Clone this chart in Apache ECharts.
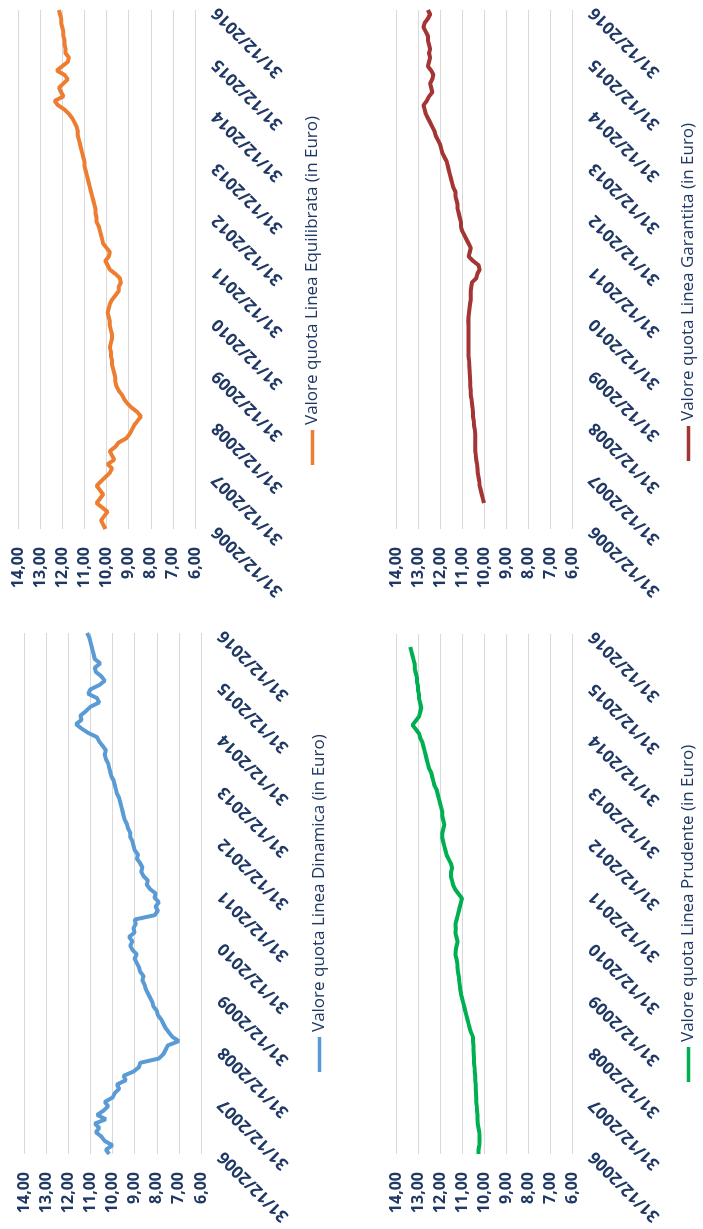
<!DOCTYPE html>
<html><head><meta charset="utf-8">
<script src="https://cdn.jsdelivr.net/npm/echarts@6/dist/echarts.min.js"></script>
<style>
html,body{margin:0;padding:0;width:703px;height:1229px;overflow:hidden;background:#fff}
#chart{position:absolute;left:0;top:0;width:1229px;height:703px;transform-origin:0 0;transform:translate(0,1229px) rotate(-90deg);}
</style></head><body><div id="chart"></div>
<script>
// Month-end dates 31/12/2006 ... 31/12/2016
const categories = [];
function pad(n){return (n<10?'0':'')+n;}
for (let y = 2006; y <= 2016; y++) {
  for (let mo = 1; mo <= 12; mo++) {
    if (y === 2006 && mo < 12) continue;
    const d = new Date(Date.UTC(y, mo, 0)).getUTCDate();
    categories.push(pad(d) + '/' + pad(mo) + '/' + y);
  }
}
const valueTicks = [6, 7, 8, 9, 10, 11, 12, 13, 14];

const dinamica = [10.15,10.3,10.0,10.35,10.5,10.75,10.6,10.8,10.3,10.7,
 10.4,10.2,10.35,10.0,9.9,9.7,9.8,9.4,9.5,9.05,
 8.8,8.75,7.9,7.7,7.6,7.5,7.0,7.3,7.45,7.6,
 7.7,7.8,7.95,8.0,8.15,8.2,8.3,8.4,8.5,8.55,
 8.65,8.6,8.75,8.8,8.9,9.0,8.9,9.1,9.2,9.1,
 9.25,9.0,9.05,8.95,9.0,8.1,7.95,8.05,7.9,8.1,
 8.05,8.3,8.45,8.4,8.6,8.7,8.65,8.75,8.9,8.85,
 9.0,9.05,9.1,9.2,9.2,9.3,9.35,9.45,9.5,9.55,
 9.6,9.65,9.7,9.8,9.85,9.9,9.95,10.05,10.1,10.15,
 10.2,10.3,10.35,10.3,10.45,10.6,10.7,11.1,11.4,11.65,
 11.4,11.45,11.2,11.0,10.6,10.7,11.1,11.0,10.6,10.35,
 10.5,10.75,10.8,10.55,10.8,10.85,10.9,10.95,11.0,11.05,
 11.15];
const equilibrata = [10.05,10.15,10.25,10.1,9.95,10.2,10.45,10.3,10.15,10.3,
 10.45,10.25,10.05,9.85,9.75,9.95,9.65,9.75,9.85,9.6,
 9.45,9.1,8.95,8.85,8.75,8.6,8.45,8.6,8.85,9.05,
 9.2,9.3,9.45,9.55,9.6,9.6,9.65,9.7,9.75,9.75,
 9.8,9.8,9.85,9.8,9.75,9.75,9.8,9.85,9.85,9.9,
 9.95,9.9,9.85,9.75,9.6,9.45,9.45,9.35,9.4,9.6,
 9.85,9.95,10.05,9.9,9.85,10.0,10.15,10.2,10.25,10.3,
 10.35,10.45,10.45,10.5,10.5,10.55,10.6,10.65,10.7,10.75,
 10.8,10.85,10.9,10.95,11.0,11.0,11.05,11.1,11.15,11.2,
 11.25,11.3,11.3,11.35,11.45,11.55,11.7,11.9,12.2,12.35,
 11.95,12.05,12.15,11.95,11.75,11.9,12.25,12.0,11.75,11.7,
 11.85,11.85,11.9,11.9,11.95,11.95,12.0,12.05,12.05,12.1,
 12.15];
const garantita = [null,null,null,null,null,null,10.0,10.05,10.1,10.15,
 10.2,10.22,10.25,10.28,10.3,10.32,10.35,10.37,10.4,10.4,
 10.4,10.4,10.4,10.42,10.45,10.47,10.5,10.5,10.52,10.55,
 10.57,10.6,10.6,10.62,10.63,10.64,10.65,10.66,10.67,10.68,
 10.7,10.7,10.7,10.7,10.7,10.7,10.71,10.7,10.72,10.7,
 10.68,10.66,10.64,10.6,10.6,10.6,10.58,10.55,10.35,10.3,
 10.2,10.25,10.5,10.7,10.65,10.6,10.7,10.8,10.9,11.0,
 11.05,11.05,11.1,11.15,11.2,11.2,11.25,11.3,11.3,11.4,
 11.45,11.5,11.55,11.6,11.65,11.7,11.8,11.9,11.95,12.0,
 12.1,12.2,12.25,12.35,12.45,12.55,12.65,12.7,12.75,12.6,
 12.5,12.35,12.4,12.45,12.35,12.3,12.4,12.55,12.5,12.45,
 12.5,12.45,12.5,12.55,12.55,12.65,12.75,12.7,12.55,12.45,
 12.55];
const prudente = [10.25,10.25,10.22,10.2,10.2,10.22,10.25,10.28,10.3,10.3,
 10.32,10.33,10.35,10.35,10.36,10.37,10.38,10.4,10.4,10.42,
 10.43,10.45,10.45,10.47,10.48,10.48,10.5,10.5,10.58,10.65,
 10.7,10.75,10.8,10.85,10.9,10.95,11.0,11.05,11.08,11.1,
 11.13,11.15,11.18,11.2,11.22,11.25,11.3,11.28,11.25,11.2,
 11.25,11.3,11.28,11.3,11.25,11.2,11.15,11.1,11.05,11.0,
 11.15,11.3,11.4,11.45,11.5,11.5,11.45,11.5,11.6,11.7,
 11.75,11.8,11.85,11.9,11.9,11.85,11.8,11.85,11.9,11.9,
 11.95,12.0,12.05,12.1,12.15,12.25,12.3,12.35,12.4,12.5,
 12.55,12.6,12.65,12.7,12.75,12.8,12.9,12.95,13.1,13.25,
 13.1,12.95,12.9,12.85,12.9,12.95,12.95,13.0,13.0,13.05,
 13.05,13.1,13.15,13.15,13.2,13.25,13.3,13.35,null,null,
 null];

const names = ['Valore quota Linea Dinamica (in Euro)','Valore quota Linea Equilibrata (in Euro)',
  'Valore quota Linea Prudente (in Euro)','Valore quota Linea Garantita (in Euro)'];
const colors = ['#5b9bd5','#ed7d31','#00b050','#a33534'];
const seriesData = [dinamica, equilibrata, prudente, garantita];

const FONT = 'Open Sans';
const NAVY = '#1f3864';
const grids = [
  {left:75, top:24, width:521, height:177},
  {left:700, top:18, width:519, height:177},
  {left:75, top:396, width:520, height:176},
  {left:700, top:396, width:519, height:176}
];
const legendPos = [
  {left:157, top:311},
  {left:764, top:304},
  {left:147, top:680},
  {left:768, top:680}
];

const option = {
  animation:false,
  backgroundColor:'#fff',
  grid: grids,
  xAxis: grids.map((g,i)=>({
    type:'category', gridIndex:i, data:categories, boundaryGap:false,
    axisLine:{show:false}, axisTick:{show:false}, splitLine:{show:false},
    axisLabel:{interval:11, rotate:45, margin:20, fontFamily:FONT, fontWeight:'bold', fontSize:17, color:NAVY}
  })),
  yAxis: grids.map((g,i)=>({
    type:'value', gridIndex:i, min:valueTicks[0], max:valueTicks[valueTicks.length-1], interval:1,
    axisLine:{show:false}, axisTick:{show:false},
    splitLine:{lineStyle:{color:'#d9d9d9', width:1.2}},
    axisLabel:{margin:18, fontFamily:FONT, fontWeight:'bold', fontSize:16, color:NAVY,
      formatter:v=>v.toFixed(2).replace('.', ',')}
  })),
  legend: legendPos.map((p,i)=>({
    data:[names[i]], left:p.left, top:p.top, padding:0, icon:'rect', itemWidth:35, itemHeight:3.5,
    textStyle:{fontFamily:FONT, fontSize:17, color:NAVY}
  })),
  series: seriesData.map((d,i)=>({
    name:names[i], type:'line', xAxisIndex:i, yAxisIndex:i, data:d, showSymbol:false,
    lineStyle:{width:4, color:colors[i]}, itemStyle:{color:colors[i]}
  }))
};
const chart = echarts.init(document.getElementById('chart'), null, {renderer:'canvas', width:1229, height:703});
chart.setOption(option);
</script></body></html>
